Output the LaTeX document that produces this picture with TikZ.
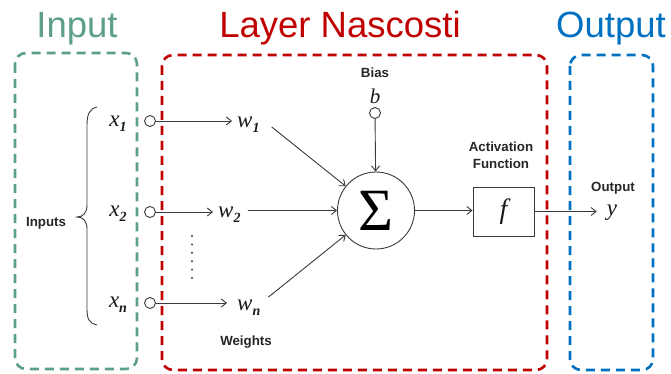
\documentclass[tikz,border=0pt]{standalone}
\usepackage{fontspec}
\setmainfont{Liberation Sans}
\newfontfamily\tms{Liberation Serif}
\usetikzlibrary{arrows.meta}
\definecolor{ingreen}{HTML}{5E9F88}
\definecolor{hidred}{HTML}{C00000}
\definecolor{outblue}{HTML}{0070C0}
\definecolor{ink}{HTML}{3A3A3A}
\newcommand\sbs[1]{\raisebox{-0.22em}{\bfseries\fontsize{14}{14}\selectfont #1}}
\begin{document}
\begin{tikzpicture}[x=1pt,y=-1pt,
  grp/.style={line width=2.6pt, dash pattern=on 9pt off 6pt, rounded corners=11pt},
  ttl/.style={font=\fontsize{36.5}{36.5}\selectfont, anchor=base, inner sep=0},
  lbl/.style={font=\bfseries\fontsize{13.3}{17}\selectfont, text=black!85, inner sep=0, align=center},
  mth/.style={font=\tms\itshape\fontsize{23}{23}\selectfont, inner sep=2pt, text=black!90},
  port/.style={circle, draw=ink, line width=0.9pt, minimum size=11pt, inner sep=0},
  wire/.style={draw=ink, line width=0.9pt},
  arr/.style={wire, -{Straight Barb[length=5pt,width=8pt]}},
]
\useasboundingbox (0,0) rectangle (671,374);
% group frames
\draw[grp, draw=ingreen] (15,53) rectangle (137,369);
\draw[grp, draw=hidred] (162,55) rectangle (547,370);
\draw[grp, draw=outblue] (570,55) rectangle (653,370);
% titles
\node[ttl, text=ingreen] (tin) at (77,38) {Input};
\node[ttl, text=hidred] (thid) at (340,38) {Layer Nascosti};
\node[ttl, text=outblue] (tout) at (611,38) {Output};
% inputs
\node[lbl] (inl) at (46,223) {Inputs};
\draw[wire] (97,107) .. controls (89,109) and (87,115) .. (87,125) -- (87,205)
  .. controls (87,213) and (83,217) .. (77,217)
  .. controls (83,217) and (87,221) .. (87,229) -- (87,309)
  .. controls (87,319) and (89,323) .. (97,325);
\node[mth] (x1) at (118,124) {x\sbs{1}};
\node[mth] (x2) at (118,214) {x\sbs{2}};
\node[mth] (xn) at (118,305) {x\sbs{n}};
\node[port] (c1) at (150,121) {};
\node[port] (c2) at (150,212) {};
\node[port] (cn) at (150,303) {};
% weights
\node[mth, anchor=west] (w1) at (235,125) {w\sbs{1}};
\node[mth, anchor=west] (w2) at (216,215) {w\sbs{2}};
\node[mth, anchor=west] (wn) at (235,308) {w\sbs{n}};
\draw[arr, shorten >=3pt] (c1.east) -- (c1.east -| w1.west);
\draw[arr, shorten >=3pt] (c2.east) -- (c2.east -| w2.west);
\draw[arr, shorten >=8pt] (cn.east) -- (cn.east -| wn.west);
\foreach \k in {0,...,5} \fill[ink] (192,236+\k*8.4) circle (1.1pt);
\node[lbl] (wl) at (246,342) {Weights};
% summation
\node[circle, draw=ink, line width=0.9pt, minimum size=77pt, inner sep=0,
  font=\tms\fontsize{60}{60}\selectfont] (sig) at (376,210.5) {Σ};
\draw[arr] ([shift={(10,2)}]w1.east) -- (sig);
\draw[arr, shorten <=5pt] (w2.east |- sig.west) -- (sig.west);
\draw[arr] ([shift={(6,-11)}]wn.east) -- (sig);
% bias
\node[lbl] (bias) at (375,73) {Bias};
\node[mth, font=\tms\itshape\fontsize{21}{21}\selectfont] (b) at (375,96) {b};
\node[port] (cb) at (375,113) {};
\draw[arr] (cb) -- (sig);
% activation
\node[lbl] (act) at (501,155.5) {Activation\\Function};
\node[draw=ink, line width=0.9pt, minimum width=61pt, minimum height=49pt,
  font=\tms\itshape\fontsize{28}{28}\selectfont, text=black!90] (fbox) at (503.5,211.5) {f};
\draw[arr] (sig.east) -- (sig.east -| fbox.west);
% output
\node[lbl] (outl) at (613,188) {Output};
\node[mth] (yout) at (612,213) {y};
\draw[arr, shorten >=8pt] (fbox.east) -- (fbox.east -| yout.west);
\end{tikzpicture}
\end{document}
